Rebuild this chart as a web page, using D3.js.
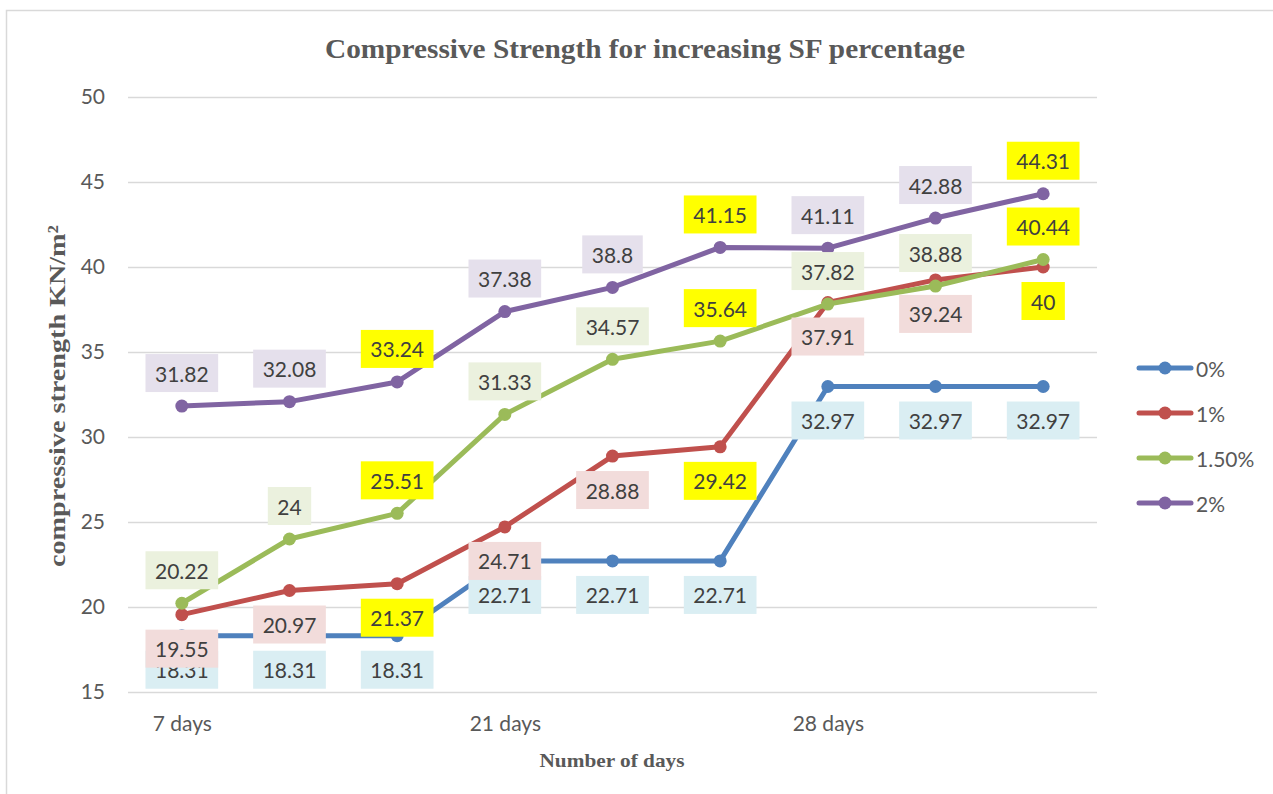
<!DOCTYPE html>
<html>
<head>
<meta charset="utf-8">
<script src="https://cdn.jsdelivr.net/npm/d3@7"></script>
<style>
  html,body{margin:0;padding:0;background:#fff;}
  svg{display:block;}
</style>
</head>
<body>
<svg id="chart" width="1273" height="794"></svg>
<script>
// ---- data ----
const categories = ["7 days", "", "", "21 days", "", "", "28 days", "", ""];
const seriesNames = ["0%", "1%", "1.50%", "2%"];
const values0 = [18.31, 18.31, 18.31, 22.71, 22.71, 22.71, 32.97, 32.97, 32.97];
const values1 = [19.55, 20.97, 21.37, 24.71, 28.88, 29.42, 37.91, 39.24, 40];
const values15 = [20.22, 24, 25.51, 31.33, 34.57, 35.64, 37.82, 38.88, 40.44];
const values2 = [31.82, 32.08, 33.24, 37.38, 38.8, 41.15, 41.11, 42.88, 44.31];
const yTicks = [15, 20, 25, 30, 35, 40, 45, 50];
const highlighted1 = [2, 5, 8];
const highlighted15 = [2, 5, 8];
const highlighted2 = [2, 5, 8];

// ---- styles ----
const series = [
  {name: seriesNames[0], values: values0, color: "#4F81BD", labelBg: "#DAEEF3", pos: "below", hi: []},
  {name: seriesNames[1], values: values1, color: "#C0504D", labelBg: "#F2DCDB", pos: "below", hi: highlighted1},
  {name: seriesNames[2], values: values15, color: "#9BBB59", labelBg: "#EBF1DE", pos: "above", hi: highlighted15},
  {name: seriesNames[3], values: values2, color: "#8064A2", labelBg: "#E5E0EC", pos: "above", hi: highlighted2}
];

const svg = d3.select("#chart");
const plotL = 128, plotR = 1097, plotT = 97, plotB = 692;

// border
svg.append("rect").attr("x", 6.5).attr("y", 10.5).attr("width", 1300).attr("height", 900)
  .attr("fill", "#fff").attr("stroke", "#D9D9D9").attr("stroke-width", 1.5);

const x = d3.scalePoint().domain(d3.range(categories.length)).range([plotL, plotR]).padding(0.5);
const y = d3.scaleLinear().domain([15, 50]).range([plotB, plotT]);

// y axis with gridlines
const yAxis = svg.append("g").attr("transform", `translate(${plotL},0)`)
  .call(d3.axisLeft(y).tickValues(yTicks).tickSize(-(plotR - plotL)).tickPadding(23).tickFormat(d3.format("d")));
yAxis.select(".domain").remove();
yAxis.selectAll(".tick line").attr("stroke", "#D9D9D9").attr("stroke-width", 1.5);
yAxis.selectAll(".tick text").attr("fill", "#595959").attr("font-family", "Lato, sans-serif").attr("font-size", 21);

// x axis
const xAxis = svg.append("g").attr("transform", `translate(0,${plotB})`)
  .call(d3.axisBottom(x).tickSize(0).tickPadding(24).tickFormat(i => categories[i]));
xAxis.select(".domain").remove();
xAxis.selectAll(".tick text").attr("fill", "#595959").attr("font-family", "Lato, sans-serif").attr("font-size", 21);

// lines
const line = d3.line().x((d, i) => x(i)).y(d => y(d));
series.forEach(s => {
  svg.append("path").datum(s.values).attr("d", line).attr("fill", "none")
    .attr("stroke", s.color).attr("stroke-width", 5).attr("stroke-linejoin", "round").attr("stroke-linecap", "round");
  svg.append("g").selectAll("circle").data(s.values).join("circle")
    .attr("cx", (d, i) => x(i)).attr("cy", d => y(d)).attr("r", 6.5).attr("fill", s.color);
});

// data labels
const labelG = svg.append("g");
series.forEach(s => {
  s.values.forEach((v, i) => {
    const cx = x(i);
    const cy = y(v) + (s.pos === "above" ? -33 : 34);
    const g = labelG.append("g");
    const rect = g.append("rect").attr("fill", s.hi.includes(i) ? "#FFFF00" : s.labelBg);
    const t = g.append("text").attr("x", cx).attr("y", cy).attr("text-anchor", "middle")
      .attr("dominant-baseline", "central").attr("font-family", "Lato, sans-serif").attr("font-size", 21)
      .attr("fill", "#404040").text(String(v));
    const w = t.node().getComputedTextLength() + 19;
    rect.attr("x", cx - w / 2).attr("y", cy - 19).attr("width", w).attr("height", 38);
  });
});

// legend
const legend = svg.append("g");
series.forEach((s, k) => {
  const ly = 368 + k * 45;
  legend.append("line").attr("x1", 1139).attr("x2", 1191).attr("y1", ly).attr("y2", ly)
    .attr("stroke", s.color).attr("stroke-width", 5).attr("stroke-linecap", "round");
  legend.append("circle").attr("cx", 1165).attr("cy", ly).attr("r", 6.5).attr("fill", s.color);
  legend.append("text").attr("x", 1196).attr("y", ly).attr("dominant-baseline", "central")
    .attr("font-family", "Lato, sans-serif").attr("font-size", 21).attr("fill", "#595959").text(s.name);
});

// titles
svg.append("text").attr("x", 645).attr("y", 49).attr("text-anchor", "middle").attr("dominant-baseline", "central")
  .attr("font-family", "'Liberation Serif', 'Times New Roman', serif").attr("font-weight", "bold")
  .attr("font-size", 27).attr("fill", "#595959")
  .attr("textLength", 640).attr("lengthAdjust", "spacingAndGlyphs")
  .text("Compressive Strength for increasing SF percentage");

svg.append("text").attr("transform", "translate(57,396) rotate(-90)").attr("text-anchor", "middle")
  .attr("dominant-baseline", "central")
  .attr("font-family", "'Liberation Serif', 'Times New Roman', serif").attr("font-weight", "bold")
  .attr("font-size", 24).attr("fill", "#595959")
  .attr("textLength", 342).attr("lengthAdjust", "spacingAndGlyphs")
  .text("compressive strength KN/m²");

svg.append("text").attr("x", 612).attr("y", 760).attr("text-anchor", "middle").attr("dominant-baseline", "central")
  .attr("font-family", "'Liberation Serif', 'Times New Roman', serif").attr("font-weight", "bold")
  .attr("font-size", 19).attr("fill", "#595959")
  .attr("textLength", 145).attr("lengthAdjust", "spacingAndGlyphs")
  .text("Number of days");
</script>
</body>
</html>
